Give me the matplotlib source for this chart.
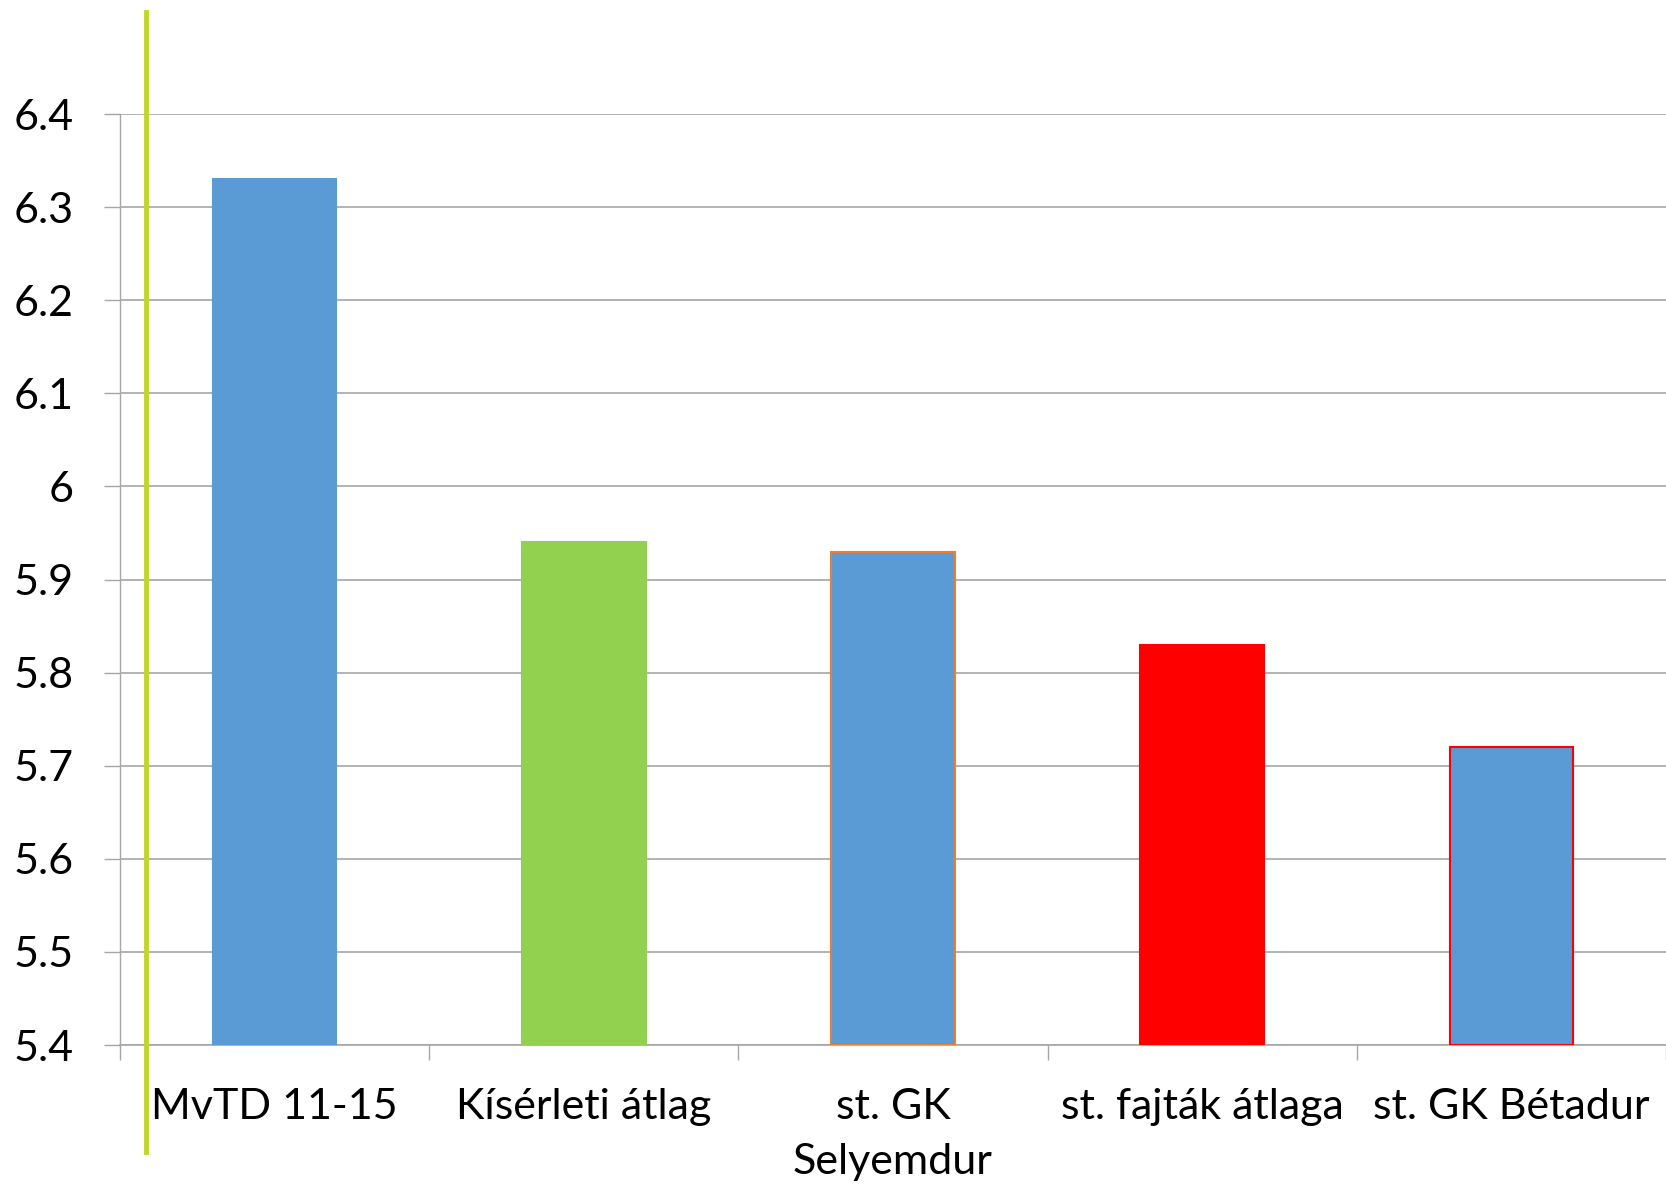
import matplotlib
matplotlib.use("Agg")
import matplotlib.pyplot as plt
from matplotlib.lines import Line2D

# adatok a képről
labels = ["MvTD 11-15", "Kísérleti átlag", "st. GK\nSelyemdur", "st. fajták átlaga", "st. GK Bétadur"]
values = [6.33, 5.94, 5.93, 5.83, 5.72]
colors = ["#5B9BD5", "#92D050", "#5B9BD5", "#FF0000", "#5B9BD5"]
edges = ["#5B9BD5", "#92D050", "#ED7D31", "#FF0000", "#FF0000"]
yticks = [5.4, 5.5, 5.6, 5.7, 5.8, 5.9, 6.0, 6.1, 6.2, 6.3, 6.4]
ytick_labels = ["5.4", "5.5", "5.6", "5.7", "5.8", "5.9", "6", "6.1", "6.2", "6.3", "6.4"]

plt.rcParams['font.family'] = ['Lato', 'DejaVu Sans']

fig = plt.figure(figsize=(16.66, 11.9), dpi=100)
ax = fig.add_axes([0.072, 0.1218, 0.928, 0.7824])

x = list(range(len(values)))
ax.bar(x, [v - 5.4 for v in values], bottom=5.4, width=0.40, color=colors,
       edgecolor=edges, linewidth=1.5, zorder=3)

ax.set_ylim(5.4, 6.4)
ax.set_xlim(-0.5, -0.5 + 1546 / 315)
ax.set_yticks(yticks)
ax.set_yticklabels(ytick_labels, fontsize=31)
ax.yaxis.grid(True, color="#A6A6A6", linewidth=1.2, zorder=0)
ax.tick_params(axis="y", length=11.5, width=1.0, color="#A6A6A6", pad=22)

ax.set_xticks(x)
ax.set_xticklabels(labels, fontsize=31, linespacing=1.55)
ax.tick_params(axis="x", which="major", length=0, pad=31)
ax.set_xticks([i + 0.5 for i in range(-1, len(values))], minor=True)
ax.tick_params(axis="x", which="minor", length=11, width=1.0, color="#A6A6A6")

for s in ["top", "right"]:
    ax.spines[s].set_visible(False)
ax.spines["left"].set_color("#A6A6A6")
ax.spines["bottom"].set_color("#A6A6A6")
ax.spines["left"].set_linewidth(1.0)
ax.spines["bottom"].set_linewidth(1.2)

# zöld függőleges vonal
fig.add_artist(Line2D([146 / 1666, 146 / 1666], [1 - 12 / 1190, 1 - 1152 / 1190],
                      color="#BED62F", linewidth=3.5, transform=fig.transFigure))

fig.savefig("out.png", dpi=100)
